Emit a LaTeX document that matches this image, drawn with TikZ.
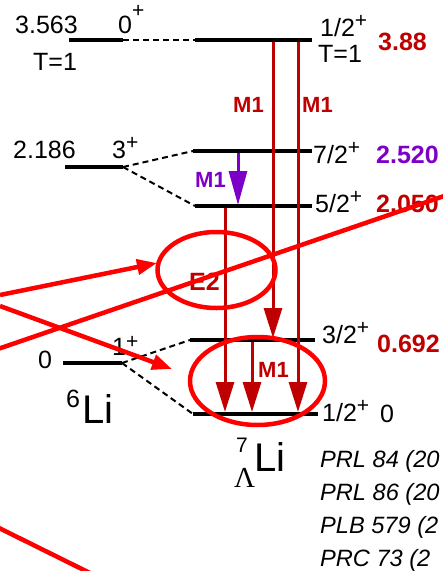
\documentclass[tikz,border=0pt]{standalone}
\usepackage{fontspec}
\setmainfont{Liberation Sans}
\newfontfamily\grkfont{Liberation Serif}
\usetikzlibrary{arrows.meta,shapes.geometric}
\definecolor{dred}{RGB}{190,0,0}
\definecolor{bred}{RGB}{255,0,0}
\definecolor{purp}{RGB}{125,0,200}
\newcommand{\plusup}[1][9pt]{\raisebox{#1}{\fontsize{21}{21}\selectfont +}}
\begin{document}
\begin{tikzpicture}[x=1pt,y=-1pt,
  lvl/.style={line width=4.5pt},
  dsh/.style={line width=2pt, dash pattern=on 6pt off 4pt},
  trans/.style={dred, line width=3pt, -{Triangle[length=30pt,width=18pt]}},
  ptrans/.style={purp, line width=3pt, -{Triangle[length=34pt,width=18pt]}},
  lab/.style={anchor=base west, inner sep=0pt, font=\fontsize{25}{28}\selectfont},
  enlab/.style={lab, font=\fontsize{25}{28}\selectfont\bfseries},
  mlab/.style={anchor=base west, inner sep=0pt, font=\fontsize{22}{24}\selectfont\bfseries},
  ref/.style={anchor=base west, inner sep=0pt, font=\fontsize{23.6}{26}\selectfont\itshape},
  ann/.style={bred, line width=4.5pt},
  annarrow/.style={ann, -{Triangle[length=20pt,width=15pt]}},
  ring/.style={ellipse, draw=bred, line width=4.5pt, inner sep=0pt}
]
\useasboundingbox (0,0) rectangle (443,571);
\clip (0,0) rectangle (443,571);

% 6Li levels
\coordinate (a0L) at (69,40);  \coordinate (a0R) at (123,40);
\coordinate (a3L) at (65,167); \coordinate (a3R) at (123,167);
\coordinate (a1L) at (63,363); \coordinate (a1R) at (122,363);
% 7Li levels
\coordinate (bTL) at (195,40);  \coordinate (bTR) at (312,40);
\coordinate (b7L) at (193,151); \coordinate (b7R) at (312,151);
\coordinate (b5L) at (195,206); \coordinate (b5R) at (312,206);
\coordinate (b3L) at (190,340); \coordinate (b3R) at (315,340);
\coordinate (bgL) at (193,414); \coordinate (bgR) at (318,414);

\draw[lvl] (a0L) -- (a0R);
\draw[lvl] (a3L) -- (a3R);
\draw[lvl] (a1L) -- (a1R);
\draw[lvl] (bTL) -- (bTR);
\draw[lvl] (b7L) -- (b7R);
\draw[lvl] (b5L) -- (b5R);
\draw[lvl] (b3L) -- (b3R);
\draw[lvl] (bgL) -- (bgR);

\draw[dsh] (a0R) -- (bTL);
\draw[dsh] (a3R) -- (b7L);
\draw[dsh] (a3R) -- (b5L);
\draw[dsh] (a1R) -- (b3L);
\draw[dsh] (a1R) -- (bgL);

% transitions
\coordinate (t1s) at (273,42);  \coordinate (t1e) at (273,338);
\coordinate (t2s) at (298,42);  \coordinate (t2e) at (298,412);
\coordinate (t3s) at (225,208); \coordinate (t3e) at (225,412);
\coordinate (t4s) at (252,342); \coordinate (t4e) at (252,412);
\coordinate (t5s) at (238,153); \coordinate (t5e) at (238,205);
\draw[trans] (t1s) -- (t1e);
\draw[trans] (t2s) -- (t2e);
\draw[trans] (t3s) -- (t3e);
\draw[trans] (t4s) -- (t4e);
\draw[ptrans] (t5s) -- (t5e);

% labels 6Li
\node[lab] (l3563) at (15,33) {3.563};
\node[lab] (lT1a) at (33,70) {T=1};
\node[lab] (l0p) at (118,33) {0\plusup[16pt]};
\node[lab] (l2186) at (13,158) {2.186};
\node[lab] (l3p) at (112,158) {3\plusup};
\node[lab] (l0) at (38,368) {0};
\node[lab] (l1p) at (112,355) {1\plusup[7pt]};
\node[anchor=base west, inner sep=0pt] (lLi6) at (66,423)
  {\raisebox{16pt}{\fontsize{25}{25}\selectfont 6}\hspace{2pt}\fontsize{40}{40}\selectfont Li};

% labels 7Li
\node[lab] (l12T) at (320,36) {1/2\plusup};
\node[lab] (lT1b) at (318,62) {T=1};
\node[lab] (l72) at (313,163) {7/2\plusup};
\node[lab] (l52) at (315,212) {5/2\plusup};
\node[lab] (l32) at (322,343) {3/2\plusup};
\node[lab] (l12) at (322,421) {1/2\plusup};
\node[lab] (lg0) at (380,422) {0};
\node[enlab, dred] (e388) at (378,50) {3.88};
\node[enlab, purp] (e2520) at (376,163) {2.520};
\node[enlab, dred] (e2050) at (376,212) {2.050};
\node[enlab, dred] (e0692) at (377,352) {0.692};

\node[anchor=base west, inner sep=0pt, font=\fontsize{21}{21}\selectfont] (lam7) at (236,452) {7};
\node[anchor=base west, inner sep=0pt, font=\fontsize{29}{29}\selectfont\grkfont] (lamL) at (234,487) {Λ};
\node[anchor=base west, inner sep=0pt, font=\fontsize{40}{40}\selectfont] (lamLi) at (254,471) {Li};

% multipolarity labels
\node[mlab, dred] (m1a) at (233,112) {M1};
\node[mlab, dred] (m1b) at (302,112) {M1};
\node[mlab, purp] (m1c) at (195,187) {M1};
\node[mlab, dred] (m1d) at (258,377) {M1};
\node[enlab, dred] (e2) at (189,290) {E2};

% references
\node[ref] (r1) at (320,467) {PRL 84 (20};
\node[ref] (r2) at (320,500) {PRL 86 (20};
\node[ref] (r3) at (320,533) {PLB 579 (2};
\node[ref] (r4) at (320,566) {PRC 73 (2};

% red annotations
\node[ring, minimum width=118pt, minimum height=76pt] (e2ring) at (216.5,270) {};
\node[ring, minimum width=135pt, minimum height=88pt] (m1ring) at (257.5,381) {};
\coordinate (p1s) at (0,295);  \coordinate (p1e) at (157,263);
\coordinate (p2s) at (0,306);  \coordinate (p2e) at (172,369);
\coordinate (p3s) at (-5,350); \coordinate (p3e) at (450,194);
\coordinate (p4s) at (-5,526); \coordinate (p4e) at (100,578);
\draw[annarrow] (p1s) -- (p1e);
\draw[annarrow] (p2s) -- (p2e);
\draw[ann] (p3s) -- (p3e);
\draw[ann] (p4s) -- (p4e);
\end{tikzpicture}
\end{document}
